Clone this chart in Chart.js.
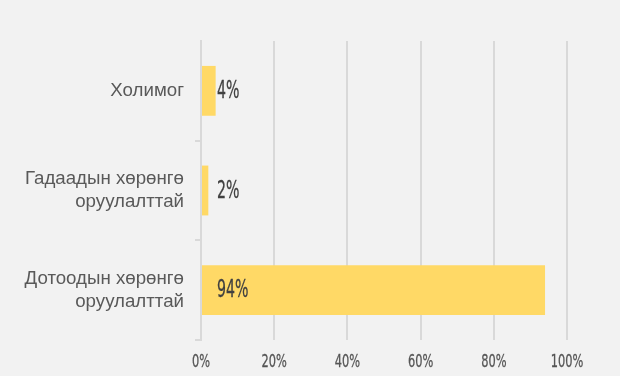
<!DOCTYPE html>
<html>
<head>
<meta charset="utf-8">
<script src="https://cdn.jsdelivr.net/npm/chart.js@4"></script>
<style>
  html, body { margin: 0; padding: 0; background: #f2f2f2; }
  #wrap { width: 620px; height: 376px; }
</style>
</head>
<body>
<div id="wrap"><canvas id="investChart"></canvas></div>
<script>
// Categories (multi-line labels) and shares in percent
const categories = [
    'Холимог',
    ['Гадаадын хөрөнгө', 'оруулалттай'],
    ['Дотоодын хөрөнгө', 'оруулалттай']
];
const shares = [4, 2, 94];
const xTicks = [0, 20, 40, 60, 80, 100];

// Narrow numerals: regular face squeezed horizontally, lightly stroked for weight
function drawNarrow(ctx, text, x, y, size, squeeze, align, color) {
    ctx.save();
    ctx.font = size + 'px "DejaVu Sans", sans-serif';
    ctx.fillStyle = color;
    ctx.strokeStyle = color;
    ctx.lineWidth = 0.3;
    ctx.textBaseline = 'middle';
    const w = ctx.measureText(text).width * squeeze;
    let left = x;
    if (align === 'center') left = x - w / 2;
    ctx.translate(left, y);
    ctx.scale(squeeze, 1);
    ctx.textAlign = 'left';
    ctx.fillText(text, 0, 0);
    ctx.strokeText(text, 0, 0);
    ctx.restore();
}

const narrowLabels = {
    id: 'narrowLabels',
    afterDatasetsDraw(chart) {
        const ctx = chart.ctx;
        const xs = chart.scales.x;
        // value labels, a fixed step right of the zero line
        const x0 = xs.getPixelForValue(0) + 16;
        chart.getDatasetMeta(0).data.forEach((bar, i) => {
            drawNarrow(ctx, shares[i] + '%', x0, bar.y + 1, 24, 0.59, 'left', '#404040');
        });
        // x axis tick labels
        const yTick = chart.chartArea.bottom + 23;
        xTicks.forEach(v => {
            drawNarrow(ctx, v + '%', xs.getPixelForValue(v), yTick, 17, 0.67, 'center', '#555555');
        });
    }
};

new Chart(document.getElementById('investChart'), {
    type: 'bar',
    data: {
        labels: categories,
        datasets: [{
            data: shares,
            backgroundColor: '#ffd966',
            borderWidth: 0,
            categoryPercentage: 1,
            barPercentage: 0.5
        }]
    },
    options: {
        indexAxis: 'y',
        responsive: true,
        maintainAspectRatio: false,
        animation: false,
        layout: { padding: { top: 41, right: 53, bottom: 0, left: 0 } },
        plugins: {
            legend: { display: false },
            tooltip: { enabled: false }
        },
        scales: {
            x: {
                min: 0,
                max: 100,
                afterBuildTicks: scale => {
                    scale.ticks = xTicks.map(v => ({ value: v }));
                },
                afterFit: scale => { scale.height = 36; },
                grid: {
                    color: '#d9d9d9',
                    lineWidth: 2,
                    drawTicks: false
                },
                border: { display: false },
                ticks: { display: false }
            },
            y: {
                afterFit: scale => { scale.width = 201; },
                grid: {
                    drawOnChartArea: false,
                    tickLength: 6,
                    lineWidth: 2,
                    color: ctx => ctx.index === 0 ? 'rgba(0,0,0,0)' : '#d9d9d9'
                },
                border: { display: true, color: '#d9d9d9', width: 2 },
                ticks: {
                    padding: 11,
                    color: '#595959',
                    font: { family: "'Liberation Sans', Arial, sans-serif", size: 18.7, lineHeight: 1.21 }
                }
            }
        }
    },
    plugins: [narrowLabels]
});
</script>
</body>
</html>
